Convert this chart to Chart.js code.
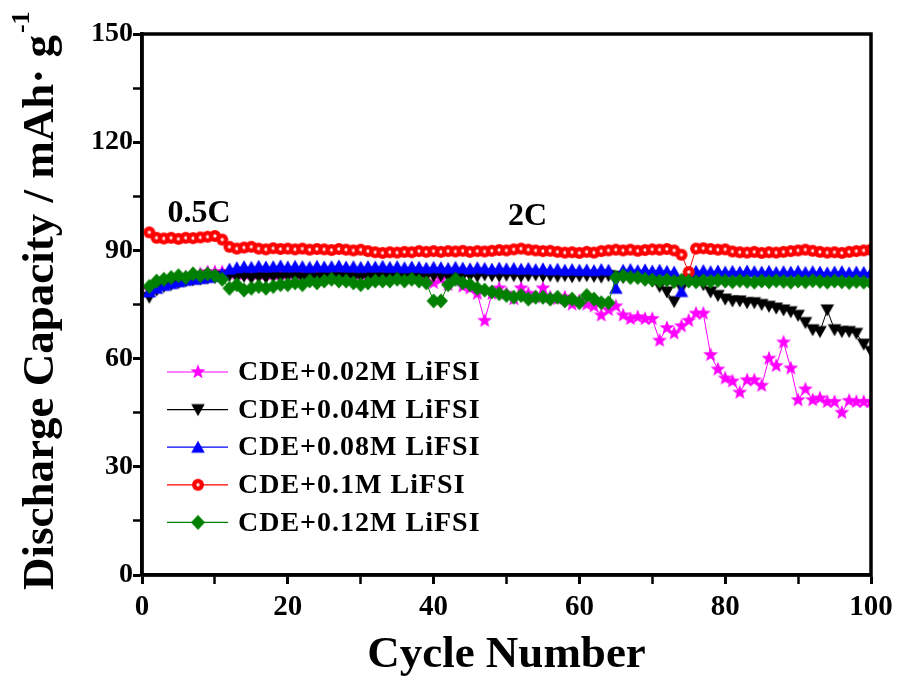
<!DOCTYPE html>
<html>
<head>
<meta charset="utf-8">
<script src="https://cdn.jsdelivr.net/npm/chart.js@4.4.1/dist/chart.umd.min.js"></script>
<style>
  html, body { margin: 0; padding: 0; background: #fff; }
  #wrap { width: 905px; height: 679px; }
</style>
</head>
<body>
<div id="wrap"><canvas id="chart" width="905" height="679"></canvas></div>
<script>
// cycle index 1..100
const cycles = Array.from({ length: 100 }, (_, i) => i + 1);

const seriesNames = ['CDE+0.02M LiFSI', 'CDE+0.04M LiFSI', 'CDE+0.08M LiFSI', 'CDE+0.1M LiFSI', 'CDE+0.12M LiFSI'];

const lifsi002 = [
  79, 80, 80.8, 81.5, 82, 82.5, 83, 83.5, 84, 84,
  84, 83.8, 83.6, 83.5, 83.7, 83.5, 83.6, 83.4, 83.5, 83.6,
  83.5, 83.4, 83.6, 83.5, 83.4, 83.6, 83.5, 83.3, 83.5, 83.4,
  83.6, 83.5, 83.3, 83.5, 83.4, 83.6, 83.5, 83.3, 83, 81,
  82, 80.5, 82, 80, 79.5, 78, 70.5, 78, 79.5, 78,
  76.5, 79.5, 78, 77, 79.5, 77, 76.5, 77, 75, 76,
  75, 74.5, 72, 73.5, 74.5, 72, 71, 71.5, 71, 71,
  65, 68.5, 67, 69, 70.5, 72.5, 72.5, 61, 57, 54.5,
  53.7, 50.6, 54, 54, 52.5, 60, 58, 64.5, 57.3, 48.5,
  51.5, 48.5, 49, 48, 48, 45, 48.3, 48, 48, 48
];
const lifsi004 = [
  77, 79, 80, 80.5, 81, 81.5, 81.8, 82, 82.3, 82.5,
  82.8, 83, 82.5, 82.8, 82.3, 82.6, 82.4, 82.7, 82.5, 82.8,
  82.6, 82.4, 82.8, 82.5, 82.7, 82.4, 82.6, 82.8, 82.5, 82.7,
  82.6, 82.8, 82.5, 82.9, 82.7, 83, 82.8, 82.6, 83, 82.9,
  83, 82.8, 83.1, 82.9, 83, 82.8, 83.2, 83, 82.9, 83.1,
  83, 82.8, 83, 83.2, 82.9, 83, 82.8, 83, 82.7, 82.9,
  83, 82.8, 82.6, 83, 82.8, 82.5, 82.7, 82.4, 82, 81.5,
  80, 78.5, 75.8, 79.5, 82, 82.5, 80.5, 78.5, 77.5, 76.5,
  76, 76, 75.5, 75.5, 75, 74.5, 74, 73.5, 73, 72,
  70, 68, 67.5, 73.5, 68, 67.5, 67.5, 67, 64, 62
];
const lifsi008 = [
  78.5, 79.5, 80.3, 80.8, 81.3, 81.7, 82, 82.2, 82.5, 82.8,
  83.5, 84.8, 85.2, 85.5, 85.3, 85.6, 85.4, 85.5, 85.7, 85.4,
  85.6, 85.5, 85.3, 85.6, 85.4, 85.5, 85.7, 85.4, 85.5, 85.3,
  85.5, 85.4, 85.6, 85.3, 85.5, 85.2, 85.4, 85.3, 85.1, 85.3,
  85.2, 85, 85.3, 85.1, 84.9, 85.2, 85, 84.8, 85.1, 84.9,
  85, 84.8, 85, 84.7, 84.9, 84.6, 84.8, 84.5, 84.7, 84.5,
  84.6, 84.4, 84.7, 84.5, 79.5, 84.5, 84.7, 84.4, 84.6, 84.3,
  84.5, 84.2, 84, 78.6, 83.5, 84.2, 84.4, 84.1, 84.3, 84,
  84.2, 84, 84.3, 84.1, 84, 84.2, 83.9, 84.1, 84, 84.2,
  83.9, 84.1, 84, 83.8, 84, 84.1, 83.8, 84, 83.9, 83.8
];
const lifsi01 = [
  95, 93.5, 93.3, 93.5, 93.2, 93.5, 93.4, 93.6, 93.8, 94,
  93, 91, 90.5, 90.8, 91, 90.5, 90.3, 90.6, 90.4, 90.5,
  90.3, 90.5, 90.2, 90.4, 90.3, 90.1, 90.4, 90.2, 90, 90.2,
  89.8, 89.5, 89.3, 89.5, 89.4, 89.6, 89.5, 89.8, 89.6, 89.8,
  89.6, 89.8, 89.7, 89.9, 89.6, 89.8, 89.7, 89.9, 90.1, 90,
  90.3, 90.5, 90.2, 90, 89.8, 89.9, 89.6, 89.4, 89.5, 89.3,
  89.6, 89.4, 89.8, 90, 90.2, 90, 90.2, 89.9, 90.1, 90.3,
  90.2, 90.4, 90, 88.8, 84, 90.5, 90.6, 90.4, 90.2, 90.3,
  89.7, 89.5, 89.4, 89.6, 89.3, 89.5, 89.4, 89.6, 89.8, 90,
  90.2, 89.9, 89.6, 89.4, 89.5, 89.3, 89.6, 89.8, 90, 90.2
];
const lifsi012 = [
  80, 81.5, 82, 82.5, 83, 82.5, 83.5, 83, 83.5, 83,
  82, 79.5, 80.5, 79, 79.5, 80, 79.5, 80, 80.5, 80.5,
  81, 80.5, 81.5, 81, 81.5, 82, 81.5, 81.5, 81, 80.5,
  81, 81.5, 81.5, 81.5, 82, 81.5, 82, 81.5, 81, 76,
  76, 80.5, 82, 81, 80.5, 79.5, 79, 78.5, 78, 77.5,
  77, 77.5, 76.5, 77, 77, 76.5, 77, 76, 76.5, 75.5,
  77.5, 76.5, 75.5, 75.5, 82.5, 83, 82.5, 82.5, 82, 81.8,
  81.5, 81.8, 81.4, 81.7, 81.5, 81.3, 81.6, 81.4, 81.7, 81.5,
  81.3, 81.6, 81.4, 81.2, 81.5, 81.3, 81.6, 81.4, 81.2, 81.5,
  81.3, 81.6, 81.4, 81.2, 81.5, 81.3, 81.1, 81.4, 81.2, 81
];

const xTickLabels = [0, 20, 40, 60, 80, 100];
const yTickLabels = [0, 30, 60, 90, 120, 150];
const rateLabels = ['0.5C', '2C'];

const colors = ['#ff00ff', '#000000', '#0000ff', '#ff0000', '#008000'];
const serif = '"Liberation Serif", "Times New Roman", serif';

// marker images, so legend and data use the same glyph
function makeMarker(kind, color) {
  const c = document.createElement('canvas');
  c.width = 18; c.height = 18;
  const g = c.getContext('2d');
  g.translate(9, 9);
  g.fillStyle = color;
  g.beginPath();
  if (kind === 'star') {
    for (let i = 0; i < 10; i++) {
      const r = i % 2 ? 3.3 : 7.8;
      const a = -Math.PI / 2 + i * Math.PI / 5;
      g.lineTo(r * Math.cos(a), r * Math.sin(a));
    }
  } else if (kind === 'up') {
    g.moveTo(0, -6.5); g.lineTo(6.8, 5.5); g.lineTo(-6.8, 5.5);
  } else if (kind === 'down') {
    g.moveTo(0, 6.5); g.lineTo(6.8, -5.5); g.lineTo(-6.8, -5.5);
  } else if (kind === 'diamond') {
    g.moveTo(0, -7.5); g.lineTo(7, 0); g.lineTo(0, 7.5); g.lineTo(-7, 0);
  } else {
    g.arc(0, 0, 6, 0, Math.PI * 2);
  }
  g.closePath();
  g.fill();
  if (kind === 'circle') {
    g.fillStyle = '#ffe8e8';
    g.beginPath();
    g.arc(0, 0, 1.7, 0, Math.PI * 2);
    g.fill();
  }
  return c;
}

const markers = [
  makeMarker('star', colors[0]),
  makeMarker('down', colors[1]),
  makeMarker('up', colors[2]),
  makeMarker('circle', colors[3]),
  makeMarker('diamond', colors[4])
];

const allSeries = [lifsi002, lifsi004, lifsi008, lifsi01, lifsi012];

const datasets = allSeries.map((vals, i) => ({
  label: seriesNames[i],
  data: vals,
  borderColor: colors[i],
  backgroundColor: colors[i],
  borderWidth: 1,
  pointStyle: markers[i],
  pointRadius: 6,
  tension: 0,
  order: 5 - i
}));

const framePlugin = {
  id: 'frame',
  afterDraw(chart) {
    const { ctx, chartArea: a, scales } = chart;
    ctx.save();
    ctx.strokeStyle = '#000';
    ctx.lineWidth = 3.5;
    ctx.strokeRect(a.left, a.top, a.right - a.left, a.bottom - a.top);

    // rate labels
    ctx.fillStyle = '#000';
    ctx.font = 'bold 32px ' + serif;
    ctx.textBaseline = 'alphabetic';
    ctx.textAlign = 'left';
    ctx.fillText(rateLabels[0], scales.x.getPixelForValue(3.5), scales.y.getPixelForValue(98));
    ctx.fillText(rateLabels[1], scales.x.getPixelForValue(50.2), scales.y.getPixelForValue(97));

    // legend
    const lx = a.left + 25, rowY = 372, gap = 37.6;
    datasets.forEach((d, i) => {
      const y = rowY + i * gap;
      ctx.strokeStyle = d.borderColor;
      ctx.lineWidth = 1.2;
      ctx.beginPath();
      ctx.moveTo(lx, y);
      ctx.lineTo(lx + 61, y);
      ctx.stroke();
      ctx.drawImage(markers[i], lx + 31 - 9, y - 9);
      ctx.fillStyle = '#000';
      ctx.font = 'bold 28px ' + serif;
      ctx.letterSpacing = '1px';
      ctx.textBaseline = 'middle';
      ctx.fillText(d.label, lx + 71, y + 1);
      ctx.letterSpacing = '0px';
    });

    // axis titles
    ctx.textBaseline = 'alphabetic';
    ctx.font = 'bold 45px ' + serif;
    ctx.textAlign = 'center';
    ctx.fillText('Cycle Number', (a.left + a.right) / 2, 667);

    ctx.translate(53, 590);
    ctx.rotate(-Math.PI / 2);
    ctx.textAlign = 'left';
    const main = 'Discharge Capacity / mAh\u00b7 g';
    ctx.fillText(main, 0, 0);
    const w = ctx.measureText(main).width;
    ctx.font = 'bold 26px ' + serif;
    ctx.fillText('-1', w + 2, -24);
    ctx.restore();
  }
};

new Chart(document.getElementById('chart'), {
  type: 'line',
  data: { labels: cycles, datasets: datasets },
  options: {
    responsive: false,
    animation: false,
    layout: { padding: { top: 34, right: 34, left: 0, bottom: 0 } },
    plugins: { legend: { display: false }, tooltip: { enabled: false } },
    scales: {
      x: {
        type: 'linear',
        min: 0, max: 100,
        afterFit: s => { s.height = 104; },
        border: { color: '#000', width: 3.5 },
        grid: {
          drawOnChartArea: false, tickLength: 9, tickColor: '#000',
          tickWidth: c => (xTickLabels.includes(c.tick.value) ? 3 : 2.5)
        },
        ticks: {
          stepSize: 10, padding: 6, color: '#000', maxRotation: 0,
          font: { family: serif, size: 29, weight: 'bold' },
          callback: v => (xTickLabels.includes(v) ? v : '')
        }
      },
      y: {
        min: 0, max: 150,
        afterFit: s => { s.width = 142; },
        border: { color: '#000', width: 3.5 },
        grid: {
          drawOnChartArea: false, tickLength: 9, tickColor: '#000',
          tickWidth: c => (yTickLabels.includes(c.tick.value) ? 3 : 2.5)
        },
        ticks: {
          stepSize: 15, padding: 0, color: '#000',
          font: { family: serif, size: 28, weight: 'bold' },
          callback: v => (yTickLabels.includes(v) ? v : '')
        }
      }
    }
  },
  plugins: [framePlugin]
});
</script>
</body>
</html>
